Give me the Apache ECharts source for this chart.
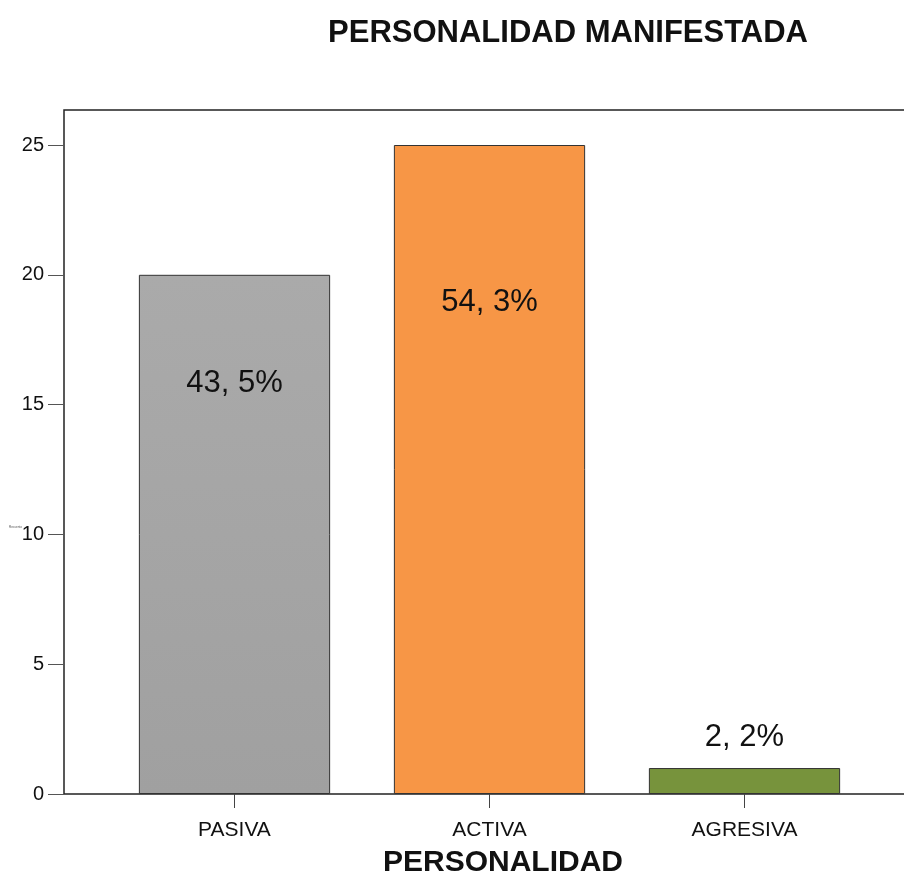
<!DOCTYPE html>
<html>
<head>
<meta charset="utf-8">
<script src="https://cdn.jsdelivr.net/npm/echarts@6/dist/echarts.min.js"></script>
<style>
  html, body { margin: 0; padding: 0; background: #fff; }
  #chart { width: 904px; height: 876px; }
</style>
</head>
<body>
<div id="chart"></div>
<script>
// datos
const categories = ['PASIVA', 'ACTIVA', 'AGRESIVA']
const counts = [20, 25, 1]
const percentLabels = ['43, 5%', '54, 3%', '2, 2%']
const yTicks = [0, 5, 10, 15, 20, 25]

const FONT = "'Liberation Sans', Arial, Helvetica, sans-serif"

// colores de cada barra
const barColors = [
  new echarts.graphic.LinearGradient(0, 0, 0, 1, [
    { offset: 0, color: '#aaaaaa' },
    { offset: 1, color: '#a0a0a0' },
  ]),
  '#f79646',
  '#77933c',
]
// colocación de las etiquetas de porcentaje
const labelPlace = [
  { position: 'insideTop', distance: 93 },
  { position: 'insideTop', distance: 142 },
  { position: 'top', distance: 15 },
]

const chart = echarts.init(document.getElementById('chart'))

const hiddenAxis = { show: false }
const gridBase = { outerBoundsMode: 'none', containLabel: false }

chart.setOption({
  animation: false,
  title: {
    text: 'PERSONALIDAD MANIFESTADA',
    left: 563,
    top: 13,
    textAlign: 'center',
    textStyle: { fontFamily: FONT, fontSize: 31, fontWeight: 'bold', color: '#111' },
  },
  graphic: [
    {
      type: 'text', left: 9, top: 526,
      style: { text: 'Recuento', fontSize: 3, fill: '#555', fontFamily: FONT },
    },
  ],
  grid: [
    // marcas del eje Y
    { ...gridBase, left: 64, right: 0, top: 145, bottom: 82 },
    // marco del área de trazado
    { ...gridBase, left: 64, right: -2, top: 110, bottom: 82, show: true, borderColor: '#222', borderWidth: 1.5, backgroundColor: 'transparent' },
    // barras
    { ...gridBase, left: 107, right: 32, top: 145, bottom: 82 },
  ],
  xAxis: [
    { gridIndex: 0, type: 'value', ...hiddenAxis },
    { gridIndex: 1, type: 'value', ...hiddenAxis },
    {
      gridIndex: 2,
      type: 'category',
      data: categories,
      axisLine: { show: false },
      axisTick: { show: true, alignWithLabel: true, length: 14, lineStyle: { color: '#444', width: 1 } },
      axisLabel: { fontFamily: FONT, fontSize: 21, color: '#111', margin: 26 },
      name: 'PERSONALIDAD',
      nameLocation: 'middle',
      nameGap: 54,
      nameTextStyle: { fontFamily: FONT, fontSize: 30, fontWeight: 'bold', color: '#111', padding: [0, 0, 0, 27] },
    },
  ],
  yAxis: [
    {
      gridIndex: 0,
      type: 'value',
      min: yTicks[0],
      max: yTicks[yTicks.length - 1],
      interval: 5,
      axisLine: { show: false },
      axisTick: { show: true, length: 16, lineStyle: { color: '#555', width: 1 } },
      axisLabel: { fontFamily: FONT, fontSize: 20, color: '#111', margin: 20 },
      splitLine: { show: false },
    },
    { gridIndex: 1, type: 'value', ...hiddenAxis },
    { gridIndex: 2, type: 'value', min: 0, max: 25, ...hiddenAxis },
  ],
  series: [
    {
      type: 'bar',
      xAxisIndex: 2,
      yAxisIndex: 2,
      barWidth: '75%',
      data: counts.map((v, i) => ({
        value: v,
        itemStyle: { color: barColors[i] },
        label: { show: true, formatter: percentLabels[i], ...labelPlace[i] },
      })),
      itemStyle: { borderColor: '#333', borderWidth: 1 },
      label: { fontFamily: FONT, fontSize: 31, color: '#111' },
    },
  ],
})
</script>
</body>
</html>
